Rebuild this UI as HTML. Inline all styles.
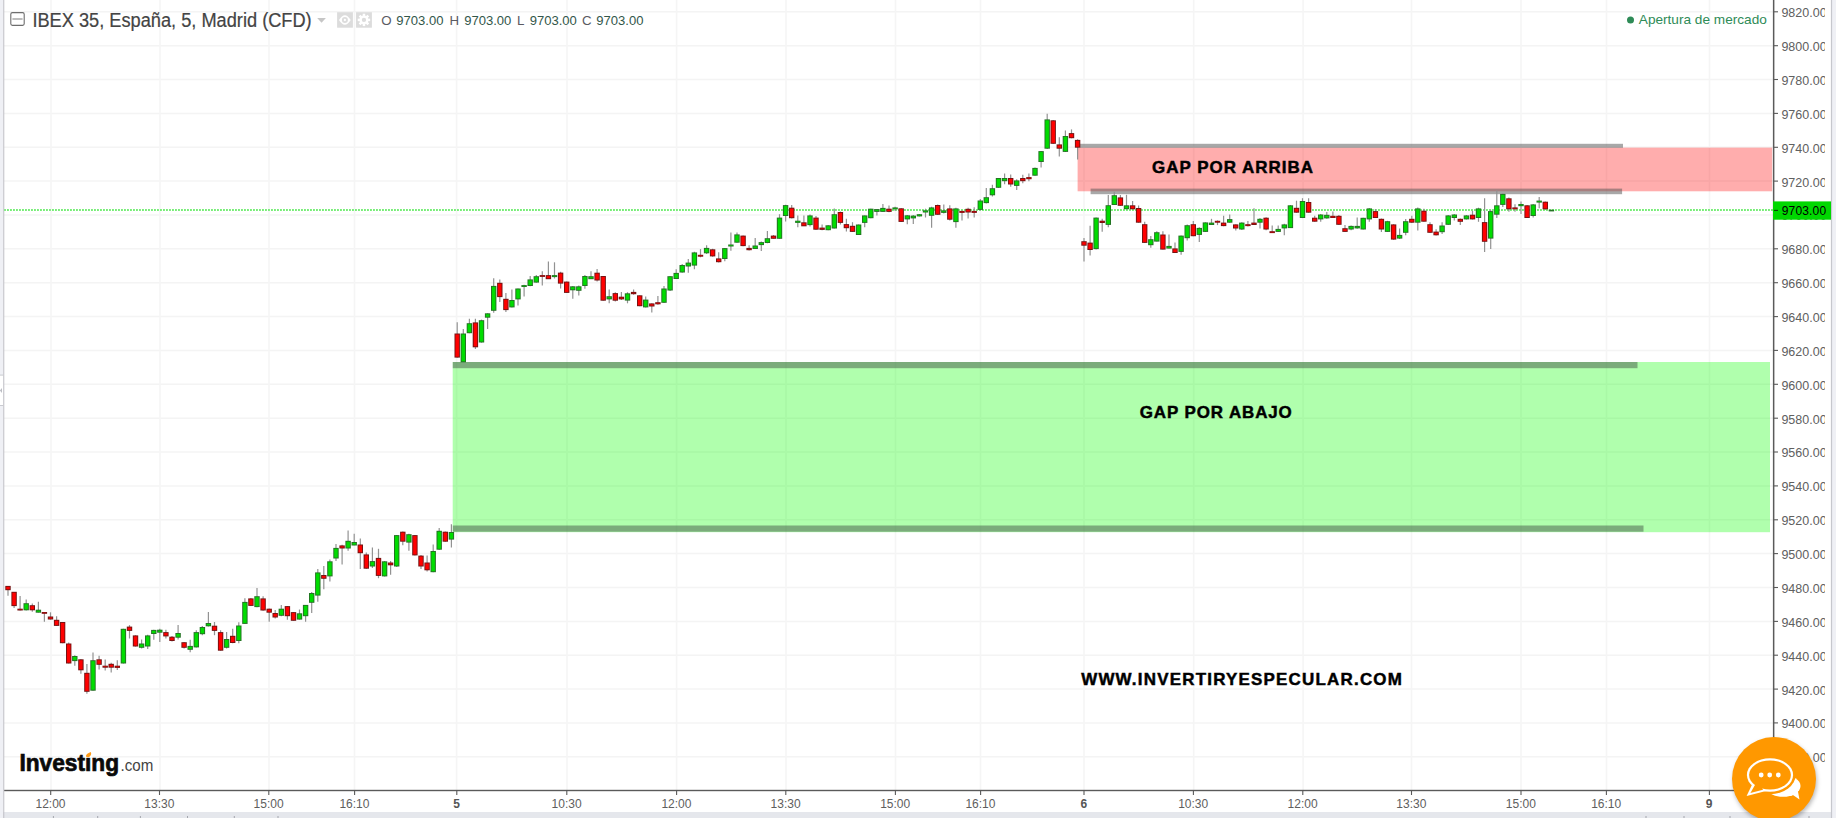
<!DOCTYPE html>
<html lang="es"><head><meta charset="utf-8"><title>IBEX 35</title>
<style>
html,body{margin:0;padding:0;background:#fff;}
body{width:1836px;height:818px;overflow:hidden;position:relative;font-family:"Liberation Sans",sans-serif;}
svg{position:absolute;left:0;top:0;display:block;}
text{font-family:"Liberation Sans",sans-serif;}
.ax{font-size:12.5px;fill:#606060;}
.tm{font-size:12px;fill:#5e5e5e;text-anchor:middle;}
.tmb{font-size:12px;fill:#555;text-anchor:middle;font-weight:bold;}
.ann{font-size:16px;font-weight:bold;fill:#000;stroke:#000;stroke-width:0.45px;}
</style></head><body>
<svg width="1836" height="818" viewBox="0 0 1836 818">
<rect x="0" y="0" width="1836" height="818" fill="#fff"/>
<g stroke="#f4f4f4" stroke-width="1.5">
<line x1="4" y1="11.8" x2="1773" y2="11.8"/>
<line x1="4" y1="45.7" x2="1773" y2="45.7"/>
<line x1="4" y1="79.5" x2="1773" y2="79.5"/>
<line x1="4" y1="113.4" x2="1773" y2="113.4"/>
<line x1="4" y1="147.3" x2="1773" y2="147.3"/>
<line x1="4" y1="181.1" x2="1773" y2="181.1"/>
<line x1="4" y1="215.0" x2="1773" y2="215.0"/>
<line x1="4" y1="248.8" x2="1773" y2="248.8"/>
<line x1="4" y1="282.7" x2="1773" y2="282.7"/>
<line x1="4" y1="316.6" x2="1773" y2="316.6"/>
<line x1="4" y1="350.4" x2="1773" y2="350.4"/>
<line x1="4" y1="384.3" x2="1773" y2="384.3"/>
<line x1="4" y1="418.2" x2="1773" y2="418.2"/>
<line x1="4" y1="452.0" x2="1773" y2="452.0"/>
<line x1="4" y1="485.9" x2="1773" y2="485.9"/>
<line x1="4" y1="519.8" x2="1773" y2="519.8"/>
<line x1="4" y1="553.6" x2="1773" y2="553.6"/>
<line x1="4" y1="587.5" x2="1773" y2="587.5"/>
<line x1="4" y1="621.4" x2="1773" y2="621.4"/>
<line x1="4" y1="655.2" x2="1773" y2="655.2"/>
<line x1="4" y1="689.1" x2="1773" y2="689.1"/>
<line x1="4" y1="722.9" x2="1773" y2="722.9"/>
<line x1="4" y1="756.8" x2="1773" y2="756.8"/>
</g>
<g stroke="#f5f5f5" stroke-width="1.6">
<line x1="51.0" y1="0" x2="51.0" y2="790"/>
<line x1="160.0" y1="0" x2="160.0" y2="790"/>
<line x1="269.0" y1="0" x2="269.0" y2="790"/>
<line x1="354.5" y1="0" x2="354.5" y2="790"/>
<line x1="456.6" y1="0" x2="456.6" y2="790"/>
<line x1="567.0" y1="0" x2="567.0" y2="790"/>
<line x1="676.6" y1="0" x2="676.6" y2="790"/>
<line x1="786.0" y1="0" x2="786.0" y2="790"/>
<line x1="895.5" y1="0" x2="895.5" y2="790"/>
<line x1="980.5" y1="0" x2="980.5" y2="790"/>
<line x1="1084.0" y1="0" x2="1084.0" y2="790"/>
<line x1="1193.7" y1="0" x2="1193.7" y2="790"/>
<line x1="1303.1" y1="0" x2="1303.1" y2="790"/>
<line x1="1411.5" y1="0" x2="1411.5" y2="790"/>
<line x1="1521.0" y1="0" x2="1521.0" y2="790"/>
<line x1="1606.5" y1="0" x2="1606.5" y2="790"/>
<line x1="1709.5" y1="0" x2="1709.5" y2="790"/>
</g>
<rect x="452.7" y="362" width="1317.3" height="170.2" fill="#0aff00" fill-opacity="0.32"/>
<rect x="1077.6" y="147.6" width="694.6" height="43.7" fill="#ff0000" fill-opacity="0.32"/>
<g fill="#46584a" fill-opacity="0.5">
<rect x="452.8" y="362" width="1184.7" height="6.2"/>
<rect x="452.8" y="525.5" width="1190.7" height="6.2"/>
</g>
<g fill="#525252" fill-opacity="0.5">
<rect x="1080" y="143.8" width="543" height="4"/>
<rect x="1090.6" y="188.6" width="531.5" height="5.6"/>
</g>
<line x1="4" y1="210.1" x2="1773" y2="210.1" stroke="#78ee78" stroke-width="2" stroke-dasharray="1.9,1.1"/>
<g>
<line x1="8.0" y1="586.2" x2="8.0" y2="595.8" stroke="#929292" stroke-width="1.2"/><rect x="5.3" y="585.9" width="5.4" height="4.3" fill="#741212"/><rect x="6.23" y="586.85" width="3.5" height="2.40" fill="#ff0000"/>
<line x1="14.1" y1="592.1" x2="14.1" y2="608.0" stroke="#929292" stroke-width="1.2"/><rect x="11.4" y="591.8" width="5.4" height="14.3" fill="#741212"/><rect x="12.31" y="592.75" width="3.5" height="12.40" fill="#ff0000"/>
<line x1="20.1" y1="596.1" x2="20.1" y2="610.4" stroke="#929292" stroke-width="1.2"/><rect x="17.4" y="608.7" width="5.4" height="1.8" fill="#741212"/><rect x="18.38" y="609.30" width="3.5" height="0.60" fill="#ff0000" fill-opacity="0.7"/>
<line x1="26.2" y1="599.4" x2="26.2" y2="610.4" stroke="#929292" stroke-width="1.2"/><rect x="23.5" y="603.2" width="5.4" height="7.1" fill="#237223"/><rect x="24.45" y="604.15" width="3.5" height="5.20" fill="#00dc00"/>
<line x1="32.3" y1="603.5" x2="32.3" y2="611.7" stroke="#929292" stroke-width="1.2"/><rect x="29.6" y="605.2" width="5.4" height="5.1" fill="#741212"/><rect x="30.53" y="606.15" width="3.5" height="3.20" fill="#ff0000"/>
<line x1="38.4" y1="601.8" x2="38.4" y2="612.6" stroke="#929292" stroke-width="1.2"/><rect x="35.7" y="609.7" width="5.4" height="3.0" fill="#237223"/><rect x="36.60" y="610.65" width="3.5" height="1.10" fill="#00dc00"/>
<line x1="44.4" y1="612.2" x2="44.4" y2="621.8" stroke="#929292" stroke-width="1.2"/><rect x="41.7" y="612.0" width="5.4" height="1.8" fill="#741212"/><rect x="42.68" y="612.60" width="3.5" height="0.60" fill="#ff0000" fill-opacity="0.7"/>
<line x1="50.5" y1="612.3" x2="50.5" y2="619.6" stroke="#929292" stroke-width="1.2"/><rect x="47.8" y="616.5" width="5.4" height="3.0" fill="#741212"/><rect x="48.75" y="617.45" width="3.5" height="1.10" fill="#ff0000"/>
<line x1="56.6" y1="616.3" x2="56.6" y2="626.0" stroke="#929292" stroke-width="1.2"/><rect x="53.9" y="619.8" width="5.4" height="6.1" fill="#741212"/><rect x="54.82" y="620.75" width="3.5" height="4.20" fill="#ff0000"/>
<line x1="62.6" y1="622.0" x2="62.6" y2="643.2" stroke="#929292" stroke-width="1.2"/><rect x="59.9" y="622.0" width="5.4" height="21.2" fill="#741212"/><rect x="60.90" y="622.95" width="3.5" height="19.30" fill="#ff0000"/>
<line x1="68.7" y1="642.5" x2="68.7" y2="663.6" stroke="#929292" stroke-width="1.2"/><rect x="66.0" y="643.5" width="5.4" height="20.0" fill="#741212"/><rect x="66.97" y="644.45" width="3.5" height="18.10" fill="#ff0000"/>
<line x1="74.8" y1="655.3" x2="74.8" y2="665.8" stroke="#929292" stroke-width="1.2"/><rect x="72.1" y="656.0" width="5.4" height="5.1" fill="#237223"/><rect x="73.05" y="656.95" width="3.5" height="3.20" fill="#00dc00"/>
<line x1="80.9" y1="659.0" x2="80.9" y2="673.7" stroke="#929292" stroke-width="1.2"/><rect x="78.2" y="659.3" width="5.4" height="11.0" fill="#741212"/><rect x="79.12" y="660.25" width="3.5" height="9.10" fill="#ff0000"/>
<line x1="86.9" y1="664.0" x2="86.9" y2="693.8" stroke="#929292" stroke-width="1.2"/><rect x="84.2" y="672.8" width="5.4" height="19.0" fill="#741212"/><rect x="85.19" y="673.75" width="3.5" height="17.10" fill="#ff0000"/>
<line x1="93.0" y1="652.6" x2="93.0" y2="690.7" stroke="#929292" stroke-width="1.2"/><rect x="90.3" y="660.2" width="5.4" height="30.5" fill="#237223"/><rect x="91.27" y="661.15" width="3.5" height="28.60" fill="#00dc00"/>
<line x1="99.1" y1="655.7" x2="99.1" y2="669.5" stroke="#929292" stroke-width="1.2"/><rect x="96.4" y="659.3" width="5.4" height="5.5" fill="#741212"/><rect x="97.34" y="660.25" width="3.5" height="3.60" fill="#ff0000"/>
<line x1="105.2" y1="659.6" x2="105.2" y2="670.6" stroke="#929292" stroke-width="1.2"/><rect x="102.5" y="665.7" width="5.4" height="2.0" fill="#741212"/><rect x="103.42" y="666.30" width="3.5" height="0.80" fill="#ff0000" fill-opacity="0.7"/>
<line x1="111.2" y1="662.7" x2="111.2" y2="672.4" stroke="#929292" stroke-width="1.2"/><rect x="108.5" y="663.8" width="5.4" height="3.9" fill="#741212"/><rect x="109.49" y="664.75" width="3.5" height="2.00" fill="#ff0000"/>
<line x1="117.3" y1="660.3" x2="117.3" y2="670.0" stroke="#929292" stroke-width="1.2"/><rect x="114.6" y="665.7" width="5.4" height="2.2" fill="#741212"/><rect x="115.56" y="666.30" width="3.5" height="1.00" fill="#ff0000" fill-opacity="0.7"/>
<line x1="123.4" y1="628.8" x2="123.4" y2="663.5" stroke="#929292" stroke-width="1.2"/><rect x="120.7" y="628.8" width="5.4" height="34.7" fill="#237223"/><rect x="121.64" y="629.75" width="3.5" height="32.80" fill="#00dc00"/>
<line x1="129.5" y1="625.1" x2="129.5" y2="638.5" stroke="#929292" stroke-width="1.2"/><rect x="126.8" y="626.6" width="5.4" height="4.3" fill="#741212"/><rect x="127.71" y="627.55" width="3.5" height="2.40" fill="#ff0000"/>
<line x1="135.5" y1="635.2" x2="135.5" y2="646.6" stroke="#929292" stroke-width="1.2"/><rect x="132.8" y="635.4" width="5.4" height="11.1" fill="#741212"/><rect x="133.79" y="636.35" width="3.5" height="9.20" fill="#ff0000"/>
<line x1="141.6" y1="639.4" x2="141.6" y2="648.6" stroke="#929292" stroke-width="1.2"/><rect x="138.9" y="643.5" width="5.4" height="4.3" fill="#237223"/><rect x="139.86" y="644.45" width="3.5" height="2.40" fill="#00dc00"/>
<line x1="147.7" y1="634.8" x2="147.7" y2="648.9" stroke="#929292" stroke-width="1.2"/><rect x="145.0" y="635.4" width="5.4" height="11.1" fill="#237223"/><rect x="145.93" y="636.35" width="3.5" height="9.20" fill="#00dc00"/>
<line x1="153.8" y1="629.7" x2="153.8" y2="639.8" stroke="#929292" stroke-width="1.2"/><rect x="151.1" y="629.9" width="5.4" height="4.1" fill="#237223"/><rect x="152.01" y="630.85" width="3.5" height="2.20" fill="#00dc00"/>
<line x1="159.8" y1="628.8" x2="159.8" y2="642.0" stroke="#929292" stroke-width="1.2"/><rect x="157.1" y="629.7" width="5.4" height="3.0" fill="#237223"/><rect x="158.08" y="630.65" width="3.5" height="1.10" fill="#00dc00"/>
<line x1="165.9" y1="629.7" x2="165.9" y2="638.5" stroke="#929292" stroke-width="1.2"/><rect x="163.2" y="632.1" width="5.4" height="4.3" fill="#741212"/><rect x="164.16" y="633.05" width="3.5" height="2.40" fill="#ff0000"/>
<line x1="172.0" y1="636.1" x2="172.0" y2="641.6" stroke="#929292" stroke-width="1.2"/><rect x="169.3" y="636.7" width="5.4" height="4.3" fill="#741212"/><rect x="170.23" y="637.65" width="3.5" height="2.40" fill="#ff0000"/>
<line x1="178.1" y1="625.1" x2="178.1" y2="639.4" stroke="#929292" stroke-width="1.2"/><rect x="175.4" y="633.0" width="5.4" height="4.7" fill="#237223"/><rect x="176.30" y="633.95" width="3.5" height="2.80" fill="#00dc00"/>
<line x1="184.1" y1="642.1" x2="184.1" y2="648.6" stroke="#929292" stroke-width="1.2"/><rect x="181.4" y="642.2" width="5.4" height="5.6" fill="#741212"/><rect x="182.38" y="643.15" width="3.5" height="3.70" fill="#ff0000"/>
<line x1="190.2" y1="639.8" x2="190.2" y2="652.2" stroke="#929292" stroke-width="1.2"/><rect x="187.5" y="645.9" width="5.4" height="3.9" fill="#237223"/><rect x="188.45" y="646.85" width="3.5" height="2.00" fill="#00dc00"/>
<line x1="196.3" y1="630.2" x2="196.3" y2="647.6" stroke="#929292" stroke-width="1.2"/><rect x="193.6" y="632.1" width="5.4" height="15.3" fill="#237223"/><rect x="194.53" y="633.05" width="3.5" height="13.40" fill="#00dc00"/>
<line x1="202.3" y1="626.0" x2="202.3" y2="635.2" stroke="#929292" stroke-width="1.2"/><rect x="199.7" y="627.0" width="5.4" height="7.2" fill="#237223"/><rect x="200.60" y="627.95" width="3.5" height="5.30" fill="#00dc00"/>
<line x1="208.4" y1="611.9" x2="208.4" y2="626.4" stroke="#929292" stroke-width="1.2"/><rect x="205.7" y="623.0" width="5.4" height="3.3" fill="#237223"/><rect x="206.67" y="623.95" width="3.5" height="1.40" fill="#00dc00"/>
<line x1="214.5" y1="622.0" x2="214.5" y2="635.2" stroke="#929292" stroke-width="1.2"/><rect x="211.8" y="625.7" width="5.4" height="5.2" fill="#741212"/><rect x="212.75" y="626.65" width="3.5" height="3.30" fill="#ff0000"/>
<line x1="220.6" y1="630.2" x2="220.6" y2="650.8" stroke="#929292" stroke-width="1.2"/><rect x="217.9" y="632.1" width="5.4" height="18.6" fill="#741212"/><rect x="218.82" y="633.05" width="3.5" height="16.70" fill="#ff0000"/>
<line x1="226.6" y1="632.1" x2="226.6" y2="648.4" stroke="#929292" stroke-width="1.2"/><rect x="223.9" y="639.0" width="5.4" height="8.8" fill="#237223"/><rect x="224.90" y="639.95" width="3.5" height="6.90" fill="#00dc00"/>
<line x1="232.7" y1="628.7" x2="232.7" y2="643.2" stroke="#929292" stroke-width="1.2"/><rect x="230.0" y="635.8" width="5.4" height="7.2" fill="#741212"/><rect x="230.97" y="636.75" width="3.5" height="5.30" fill="#ff0000"/>
<line x1="238.8" y1="622.2" x2="238.8" y2="643.2" stroke="#929292" stroke-width="1.2"/><rect x="236.1" y="625.5" width="5.4" height="15.5" fill="#237223"/><rect x="237.04" y="626.45" width="3.5" height="13.60" fill="#00dc00"/>
<line x1="244.9" y1="598.2" x2="244.9" y2="623.9" stroke="#929292" stroke-width="1.2"/><rect x="242.2" y="601.9" width="5.4" height="22.0" fill="#237223"/><rect x="243.12" y="602.85" width="3.5" height="20.10" fill="#00dc00"/>
<line x1="250.9" y1="597.9" x2="250.9" y2="605.9" stroke="#929292" stroke-width="1.2"/><rect x="248.2" y="598.4" width="5.4" height="7.5" fill="#741212"/><rect x="249.19" y="599.35" width="3.5" height="5.60" fill="#ff0000"/>
<line x1="257.0" y1="588.1" x2="257.0" y2="607.3" stroke="#929292" stroke-width="1.2"/><rect x="254.3" y="596.2" width="5.4" height="10.9" fill="#237223"/><rect x="255.27" y="597.15" width="3.5" height="9.00" fill="#00dc00"/>
<line x1="263.1" y1="596.2" x2="263.1" y2="610.7" stroke="#929292" stroke-width="1.2"/><rect x="260.4" y="598.4" width="5.4" height="12.1" fill="#741212"/><rect x="261.34" y="599.35" width="3.5" height="10.20" fill="#ff0000"/>
<line x1="269.2" y1="608.5" x2="269.2" y2="621.8" stroke="#929292" stroke-width="1.2"/><rect x="266.5" y="608.7" width="5.4" height="4.0" fill="#741212"/><rect x="267.41" y="609.65" width="3.5" height="2.10" fill="#ff0000"/>
<line x1="275.2" y1="609.9" x2="275.2" y2="618.4" stroke="#929292" stroke-width="1.2"/><rect x="272.5" y="613.0" width="5.4" height="4.5" fill="#741212"/><rect x="273.49" y="613.95" width="3.5" height="2.60" fill="#ff0000"/>
<line x1="281.3" y1="605.1" x2="281.3" y2="616.2" stroke="#929292" stroke-width="1.2"/><rect x="278.6" y="608.7" width="5.4" height="7.1" fill="#237223"/><rect x="279.56" y="609.65" width="3.5" height="5.20" fill="#00dc00"/>
<line x1="287.4" y1="606.1" x2="287.4" y2="619.8" stroke="#929292" stroke-width="1.2"/><rect x="284.7" y="606.1" width="5.4" height="10.1" fill="#741212"/><rect x="285.64" y="607.05" width="3.5" height="8.20" fill="#ff0000"/>
<line x1="293.5" y1="612.1" x2="293.5" y2="620.7" stroke="#929292" stroke-width="1.2"/><rect x="290.8" y="612.1" width="5.4" height="8.7" fill="#741212"/><rect x="291.71" y="613.05" width="3.5" height="6.80" fill="#ff0000"/>
<line x1="299.5" y1="609.5" x2="299.5" y2="619.6" stroke="#929292" stroke-width="1.2"/><rect x="296.8" y="613.3" width="5.4" height="6.3" fill="#237223"/><rect x="297.78" y="614.25" width="3.5" height="4.40" fill="#00dc00"/>
<line x1="305.6" y1="605.1" x2="305.6" y2="621.8" stroke="#929292" stroke-width="1.2"/><rect x="302.9" y="604.9" width="5.4" height="11.3" fill="#237223"/><rect x="303.86" y="605.85" width="3.5" height="9.40" fill="#00dc00"/>
<line x1="311.7" y1="591.9" x2="311.7" y2="612.9" stroke="#929292" stroke-width="1.2"/><rect x="309.0" y="593.0" width="5.4" height="9.8" fill="#237223"/><rect x="309.93" y="593.95" width="3.5" height="7.90" fill="#00dc00"/>
<line x1="317.8" y1="569.1" x2="317.8" y2="601.8" stroke="#929292" stroke-width="1.2"/><rect x="315.1" y="572.4" width="5.4" height="23.2" fill="#237223"/><rect x="316.01" y="573.35" width="3.5" height="21.30" fill="#00dc00"/>
<line x1="323.8" y1="565.9" x2="323.8" y2="589.3" stroke="#929292" stroke-width="1.2"/><rect x="321.1" y="575.0" width="5.4" height="3.8" fill="#741212"/><rect x="322.08" y="575.95" width="3.5" height="1.90" fill="#ff0000"/>
<line x1="329.9" y1="559.4" x2="329.9" y2="581.6" stroke="#929292" stroke-width="1.2"/><rect x="327.2" y="561.3" width="5.4" height="15.1" fill="#237223"/><rect x="328.15" y="562.25" width="3.5" height="13.20" fill="#00dc00"/>
<line x1="336.0" y1="544.0" x2="336.0" y2="561.1" stroke="#929292" stroke-width="1.2"/><rect x="333.3" y="547.9" width="5.4" height="10.6" fill="#237223"/><rect x="334.23" y="548.85" width="3.5" height="8.70" fill="#00dc00"/>
<line x1="342.1" y1="544.8" x2="342.1" y2="564.5" stroke="#929292" stroke-width="1.2"/><rect x="339.4" y="545.4" width="5.4" height="3.1" fill="#741212"/><rect x="340.30" y="546.35" width="3.5" height="1.20" fill="#ff0000"/>
<line x1="348.1" y1="530.6" x2="348.1" y2="550.8" stroke="#929292" stroke-width="1.2"/><rect x="345.4" y="540.8" width="5.4" height="7.7" fill="#237223"/><rect x="346.38" y="541.75" width="3.5" height="5.80" fill="#00dc00"/>
<line x1="354.2" y1="533.7" x2="354.2" y2="545.3" stroke="#929292" stroke-width="1.2"/><rect x="351.5" y="542.0" width="5.4" height="3.5" fill="#237223"/><rect x="352.45" y="542.95" width="3.5" height="1.60" fill="#00dc00"/>
<line x1="360.3" y1="538.5" x2="360.3" y2="569.1" stroke="#929292" stroke-width="1.2"/><rect x="357.6" y="544.5" width="5.4" height="8.7" fill="#741212"/><rect x="358.52" y="545.45" width="3.5" height="6.80" fill="#ff0000"/>
<line x1="366.3" y1="552.5" x2="366.3" y2="569.1" stroke="#929292" stroke-width="1.2"/><rect x="363.6" y="554.4" width="5.4" height="14.3" fill="#741212"/><rect x="364.60" y="555.35" width="3.5" height="12.40" fill="#ff0000"/>
<line x1="372.4" y1="547.4" x2="372.4" y2="567.9" stroke="#929292" stroke-width="1.2"/><rect x="369.7" y="561.1" width="5.4" height="5.4" fill="#237223"/><rect x="370.67" y="562.05" width="3.5" height="3.50" fill="#00dc00"/>
<line x1="378.5" y1="548.8" x2="378.5" y2="578.2" stroke="#929292" stroke-width="1.2"/><rect x="375.8" y="557.9" width="5.4" height="18.0" fill="#741212"/><rect x="376.75" y="558.85" width="3.5" height="16.10" fill="#ff0000"/>
<line x1="384.6" y1="561.1" x2="384.6" y2="576.5" stroke="#929292" stroke-width="1.2"/><rect x="381.9" y="561.3" width="5.4" height="15.1" fill="#237223"/><rect x="382.82" y="562.25" width="3.5" height="13.20" fill="#00dc00"/>
<line x1="390.6" y1="561.1" x2="390.6" y2="574.8" stroke="#929292" stroke-width="1.2"/><rect x="387.9" y="562.5" width="5.4" height="2.8" fill="#741212"/><rect x="388.89" y="563.45" width="3.5" height="0.90" fill="#ff0000"/>
<line x1="396.7" y1="535.1" x2="396.7" y2="567.1" stroke="#929292" stroke-width="1.2"/><rect x="394.0" y="535.1" width="5.4" height="31.4" fill="#237223"/><rect x="394.97" y="536.05" width="3.5" height="29.50" fill="#00dc00"/>
<line x1="402.8" y1="531.6" x2="402.8" y2="545.3" stroke="#929292" stroke-width="1.2"/><rect x="400.1" y="531.7" width="5.4" height="10.0" fill="#741212"/><rect x="401.04" y="532.65" width="3.5" height="8.10" fill="#ff0000"/>
<line x1="408.9" y1="533.7" x2="408.9" y2="550.8" stroke="#929292" stroke-width="1.2"/><rect x="406.2" y="534.2" width="5.4" height="8.4" fill="#237223"/><rect x="407.12" y="535.15" width="3.5" height="6.50" fill="#00dc00"/>
<line x1="414.9" y1="535.1" x2="414.9" y2="555.4" stroke="#929292" stroke-width="1.2"/><rect x="412.2" y="535.1" width="5.4" height="20.3" fill="#741212"/><rect x="413.19" y="536.05" width="3.5" height="18.40" fill="#ff0000"/>
<line x1="421.0" y1="555.1" x2="421.0" y2="569.1" stroke="#929292" stroke-width="1.2"/><rect x="418.3" y="555.6" width="5.4" height="10.9" fill="#741212"/><rect x="419.26" y="556.55" width="3.5" height="9.00" fill="#ff0000"/>
<line x1="427.1" y1="555.4" x2="427.1" y2="571.4" stroke="#929292" stroke-width="1.2"/><rect x="424.4" y="562.5" width="5.4" height="7.8" fill="#741212"/><rect x="425.34" y="563.45" width="3.5" height="5.90" fill="#ff0000"/>
<line x1="433.2" y1="544.5" x2="433.2" y2="572.2" stroke="#929292" stroke-width="1.2"/><rect x="430.5" y="551.0" width="5.4" height="21.2" fill="#237223"/><rect x="431.41" y="551.95" width="3.5" height="19.30" fill="#00dc00"/>
<line x1="439.2" y1="528.0" x2="439.2" y2="550.0" stroke="#929292" stroke-width="1.2"/><rect x="436.5" y="530.8" width="5.4" height="18.9" fill="#237223"/><rect x="437.49" y="531.75" width="3.5" height="17.00" fill="#00dc00"/>
<line x1="445.3" y1="531.6" x2="445.3" y2="541.7" stroke="#929292" stroke-width="1.2"/><rect x="442.6" y="531.7" width="5.4" height="10.0" fill="#741212"/><rect x="443.56" y="532.65" width="3.5" height="8.10" fill="#ff0000"/>
<line x1="451.4" y1="524.3" x2="451.4" y2="547.4" stroke="#929292" stroke-width="1.2"/><rect x="448.7" y="532.0" width="5.4" height="7.6" fill="#237223"/><rect x="449.63" y="532.95" width="3.5" height="5.70" fill="#00dc00"/>
<line x1="457.2" y1="322.2" x2="457.2" y2="357.8" stroke="#929292" stroke-width="1.2"/><rect x="454.5" y="333.5" width="5.4" height="24.1" fill="#741212"/><rect x="455.45" y="334.45" width="3.5" height="22.20" fill="#ff0000"/>
<line x1="463.3" y1="329.0" x2="463.3" y2="362.4" stroke="#929292" stroke-width="1.2"/><rect x="460.6" y="333.5" width="5.4" height="28.8" fill="#237223"/><rect x="461.53" y="334.45" width="3.5" height="26.90" fill="#00dc00"/>
<line x1="469.4" y1="318.7" x2="469.4" y2="333.3" stroke="#929292" stroke-width="1.2"/><rect x="466.7" y="323.2" width="5.4" height="10.0" fill="#237223"/><rect x="467.61" y="324.15" width="3.5" height="8.10" fill="#00dc00"/>
<line x1="475.4" y1="318.7" x2="475.4" y2="349.0" stroke="#929292" stroke-width="1.2"/><rect x="472.7" y="322.4" width="5.4" height="24.9" fill="#741212"/><rect x="473.70" y="323.35" width="3.5" height="23.00" fill="#ff0000"/>
<line x1="481.5" y1="319.6" x2="481.5" y2="342.7" stroke="#929292" stroke-width="1.2"/><rect x="478.8" y="320.2" width="5.4" height="22.3" fill="#237223"/><rect x="479.78" y="321.15" width="3.5" height="20.40" fill="#00dc00"/>
<line x1="487.6" y1="313.3" x2="487.6" y2="329.0" stroke="#929292" stroke-width="1.2"/><rect x="484.9" y="313.3" width="5.4" height="4.4" fill="#237223"/><rect x="485.86" y="314.25" width="3.5" height="2.50" fill="#00dc00"/>
<line x1="493.7" y1="278.2" x2="493.7" y2="312.7" stroke="#929292" stroke-width="1.2"/><rect x="491.0" y="285.9" width="5.4" height="24.9" fill="#237223"/><rect x="491.94" y="286.85" width="3.5" height="23.00" fill="#00dc00"/>
<line x1="499.8" y1="279.4" x2="499.8" y2="302.0" stroke="#929292" stroke-width="1.2"/><rect x="497.1" y="282.8" width="5.4" height="14.3" fill="#741212"/><rect x="498.02" y="283.75" width="3.5" height="12.40" fill="#ff0000"/>
<line x1="505.9" y1="293.1" x2="505.9" y2="311.9" stroke="#929292" stroke-width="1.2"/><rect x="503.2" y="298.8" width="5.4" height="11.3" fill="#741212"/><rect x="504.11" y="299.75" width="3.5" height="9.40" fill="#ff0000"/>
<line x1="511.9" y1="289.6" x2="511.9" y2="307.6" stroke="#929292" stroke-width="1.2"/><rect x="509.2" y="300.0" width="5.4" height="7.4" fill="#237223"/><rect x="510.19" y="300.95" width="3.5" height="5.50" fill="#00dc00"/>
<line x1="518.0" y1="288.4" x2="518.0" y2="305.4" stroke="#929292" stroke-width="1.2"/><rect x="515.3" y="288.5" width="5.4" height="10.9" fill="#237223"/><rect x="516.27" y="289.45" width="3.5" height="9.00" fill="#00dc00"/>
<line x1="524.1" y1="284.8" x2="524.1" y2="296.5" stroke="#929292" stroke-width="1.2"/><rect x="521.4" y="285.1" width="5.4" height="1.9" fill="#237223"/><rect x="522.35" y="285.70" width="3.5" height="0.70" fill="#00dc00" fill-opacity="0.7"/>
<line x1="530.2" y1="275.9" x2="530.2" y2="286.2" stroke="#929292" stroke-width="1.2"/><rect x="527.5" y="279.4" width="5.4" height="6.6" fill="#237223"/><rect x="528.43" y="280.35" width="3.5" height="4.70" fill="#00dc00"/>
<line x1="536.3" y1="275.1" x2="536.3" y2="282.8" stroke="#929292" stroke-width="1.2"/><rect x="533.6" y="276.2" width="5.4" height="6.4" fill="#237223"/><rect x="534.52" y="277.15" width="3.5" height="4.50" fill="#00dc00"/>
<line x1="542.3" y1="271.3" x2="542.3" y2="285.4" stroke="#929292" stroke-width="1.2"/><rect x="539.6" y="275.1" width="5.4" height="1.8" fill="#741212"/><rect x="540.60" y="275.70" width="3.5" height="0.60" fill="#ff0000" fill-opacity="0.7"/>
<line x1="548.4" y1="261.4" x2="548.4" y2="279.0" stroke="#929292" stroke-width="1.2"/><rect x="545.7" y="275.1" width="5.4" height="4.1" fill="#741212"/><rect x="546.68" y="276.05" width="3.5" height="2.20" fill="#ff0000"/>
<line x1="554.5" y1="262.3" x2="554.5" y2="278.5" stroke="#929292" stroke-width="1.2"/><rect x="551.8" y="275.1" width="5.4" height="2.0" fill="#237223"/><rect x="552.76" y="275.70" width="3.5" height="0.80" fill="#00dc00" fill-opacity="0.7"/>
<line x1="560.6" y1="271.7" x2="560.6" y2="288.4" stroke="#929292" stroke-width="1.2"/><rect x="557.9" y="272.6" width="5.4" height="11.0" fill="#741212"/><rect x="558.84" y="273.55" width="3.5" height="9.10" fill="#ff0000"/>
<line x1="566.7" y1="281.6" x2="566.7" y2="292.7" stroke="#929292" stroke-width="1.2"/><rect x="564.0" y="281.6" width="5.4" height="11.3" fill="#741212"/><rect x="564.93" y="282.55" width="3.5" height="9.40" fill="#ff0000"/>
<line x1="572.8" y1="285.9" x2="572.8" y2="298.7" stroke="#929292" stroke-width="1.2"/><rect x="570.1" y="286.3" width="5.4" height="4.0" fill="#237223"/><rect x="571.01" y="287.25" width="3.5" height="2.10" fill="#00dc00"/>
<line x1="578.8" y1="285.4" x2="578.8" y2="295.6" stroke="#929292" stroke-width="1.2"/><rect x="576.1" y="286.3" width="5.4" height="4.5" fill="#237223"/><rect x="577.09" y="287.25" width="3.5" height="2.60" fill="#00dc00"/>
<line x1="584.9" y1="275.1" x2="584.9" y2="288.8" stroke="#929292" stroke-width="1.2"/><rect x="582.2" y="276.0" width="5.4" height="10.0" fill="#237223"/><rect x="583.17" y="276.95" width="3.5" height="8.10" fill="#00dc00"/>
<line x1="591.0" y1="271.3" x2="591.0" y2="279.0" stroke="#929292" stroke-width="1.2"/><rect x="588.3" y="276.2" width="5.4" height="3.0" fill="#237223"/><rect x="589.25" y="277.15" width="3.5" height="1.10" fill="#00dc00"/>
<line x1="597.1" y1="269.1" x2="597.1" y2="281.4" stroke="#929292" stroke-width="1.2"/><rect x="594.4" y="272.7" width="5.4" height="7.8" fill="#741212"/><rect x="595.34" y="273.65" width="3.5" height="5.90" fill="#ff0000"/>
<line x1="603.2" y1="276.0" x2="603.2" y2="300.8" stroke="#929292" stroke-width="1.2"/><rect x="600.5" y="276.0" width="5.4" height="24.7" fill="#741212"/><rect x="601.42" y="276.95" width="3.5" height="22.80" fill="#ff0000"/>
<line x1="609.2" y1="289.6" x2="609.2" y2="303.3" stroke="#929292" stroke-width="1.2"/><rect x="606.5" y="296.2" width="5.4" height="3.2" fill="#237223"/><rect x="607.50" y="297.15" width="3.5" height="1.30" fill="#00dc00"/>
<line x1="615.3" y1="292.2" x2="615.3" y2="301.6" stroke="#929292" stroke-width="1.2"/><rect x="612.6" y="293.1" width="5.4" height="7.6" fill="#741212"/><rect x="613.58" y="294.05" width="3.5" height="5.70" fill="#ff0000"/>
<line x1="621.4" y1="291.9" x2="621.4" y2="299.9" stroke="#929292" stroke-width="1.2"/><rect x="618.7" y="296.7" width="5.4" height="2.7" fill="#741212"/><rect x="619.66" y="297.65" width="3.5" height="0.80" fill="#ff0000"/>
<line x1="627.5" y1="292.2" x2="627.5" y2="303.3" stroke="#929292" stroke-width="1.2"/><rect x="624.8" y="293.3" width="5.4" height="7.3" fill="#237223"/><rect x="625.75" y="294.25" width="3.5" height="5.40" fill="#00dc00"/>
<line x1="633.6" y1="289.6" x2="633.6" y2="294.8" stroke="#929292" stroke-width="1.2"/><rect x="630.9" y="291.9" width="5.4" height="2.3" fill="#741212"/><rect x="631.83" y="292.85" width="3.5" height="0.40" fill="#ff0000"/>
<line x1="639.7" y1="295.3" x2="639.7" y2="306.2" stroke="#929292" stroke-width="1.2"/><rect x="637.0" y="295.3" width="5.4" height="10.9" fill="#741212"/><rect x="637.91" y="296.25" width="3.5" height="9.00" fill="#ff0000"/>
<line x1="645.7" y1="296.5" x2="645.7" y2="307.6" stroke="#929292" stroke-width="1.2"/><rect x="643.0" y="299.6" width="5.4" height="7.8" fill="#237223"/><rect x="643.99" y="300.55" width="3.5" height="5.90" fill="#00dc00"/>
<line x1="651.8" y1="303.3" x2="651.8" y2="312.4" stroke="#929292" stroke-width="1.2"/><rect x="649.1" y="303.4" width="5.4" height="3.1" fill="#741212"/><rect x="650.07" y="304.35" width="3.5" height="1.20" fill="#ff0000"/>
<line x1="657.9" y1="296.1" x2="657.9" y2="304.7" stroke="#929292" stroke-width="1.2"/><rect x="655.2" y="302.2" width="5.4" height="2.1" fill="#741212"/><rect x="656.16" y="302.80" width="3.5" height="0.90" fill="#ff0000" fill-opacity="0.7"/>
<line x1="664.0" y1="285.9" x2="664.0" y2="303.0" stroke="#929292" stroke-width="1.2"/><rect x="661.3" y="288.5" width="5.4" height="14.3" fill="#237223"/><rect x="662.24" y="289.45" width="3.5" height="12.40" fill="#00dc00"/>
<line x1="670.1" y1="275.9" x2="670.1" y2="291.0" stroke="#929292" stroke-width="1.2"/><rect x="667.4" y="276.2" width="5.4" height="14.3" fill="#237223"/><rect x="668.32" y="277.15" width="3.5" height="12.40" fill="#00dc00"/>
<line x1="676.2" y1="269.3" x2="676.2" y2="279.0" stroke="#929292" stroke-width="1.2"/><rect x="673.5" y="272.9" width="5.4" height="6.1" fill="#237223"/><rect x="674.40" y="273.85" width="3.5" height="4.20" fill="#00dc00"/>
<line x1="682.2" y1="264.1" x2="682.2" y2="272.7" stroke="#929292" stroke-width="1.2"/><rect x="679.5" y="265.0" width="5.4" height="7.5" fill="#237223"/><rect x="680.48" y="265.95" width="3.5" height="5.60" fill="#00dc00"/>
<line x1="688.3" y1="259.0" x2="688.3" y2="272.7" stroke="#929292" stroke-width="1.2"/><rect x="685.6" y="262.6" width="5.4" height="3.9" fill="#237223"/><rect x="686.57" y="263.55" width="3.5" height="2.00" fill="#00dc00"/>
<line x1="694.4" y1="251.8" x2="694.4" y2="269.3" stroke="#929292" stroke-width="1.2"/><rect x="691.7" y="252.4" width="5.4" height="13.2" fill="#237223"/><rect x="692.65" y="253.35" width="3.5" height="11.30" fill="#00dc00"/>
<line x1="700.5" y1="249.1" x2="700.5" y2="257.3" stroke="#929292" stroke-width="1.2"/><rect x="697.8" y="254.8" width="5.4" height="1.9" fill="#741212"/><rect x="698.73" y="255.40" width="3.5" height="0.70" fill="#ff0000" fill-opacity="0.7"/>
<line x1="706.6" y1="245.3" x2="706.6" y2="253.9" stroke="#929292" stroke-width="1.2"/><rect x="703.9" y="247.9" width="5.4" height="5.4" fill="#237223"/><rect x="704.81" y="248.85" width="3.5" height="3.50" fill="#00dc00"/>
<line x1="712.6" y1="248.7" x2="712.6" y2="256.8" stroke="#929292" stroke-width="1.2"/><rect x="709.9" y="249.3" width="5.4" height="7.1" fill="#741212"/><rect x="710.89" y="250.25" width="3.5" height="5.20" fill="#ff0000"/>
<line x1="718.7" y1="252.2" x2="718.7" y2="262.4" stroke="#929292" stroke-width="1.2"/><rect x="716.0" y="258.4" width="5.4" height="3.8" fill="#741212"/><rect x="716.98" y="259.35" width="3.5" height="1.90" fill="#ff0000"/>
<line x1="724.8" y1="247.9" x2="724.8" y2="261.2" stroke="#929292" stroke-width="1.2"/><rect x="722.1" y="248.1" width="5.4" height="10.9" fill="#237223"/><rect x="723.06" y="249.05" width="3.5" height="9.00" fill="#00dc00"/>
<line x1="730.9" y1="232.5" x2="730.9" y2="250.8" stroke="#929292" stroke-width="1.2"/><rect x="728.2" y="244.5" width="5.4" height="2.0" fill="#237223"/><rect x="729.14" y="245.10" width="3.5" height="0.80" fill="#00dc00" fill-opacity="0.7"/>
<line x1="737.0" y1="232.5" x2="737.0" y2="242.7" stroke="#929292" stroke-width="1.2"/><rect x="734.3" y="234.4" width="5.4" height="8.3" fill="#237223"/><rect x="735.22" y="235.35" width="3.5" height="6.40" fill="#00dc00"/>
<line x1="743.1" y1="235.6" x2="743.1" y2="246.2" stroke="#929292" stroke-width="1.2"/><rect x="740.4" y="235.6" width="5.4" height="10.5" fill="#741212"/><rect x="741.30" y="236.55" width="3.5" height="8.60" fill="#ff0000"/>
<line x1="749.1" y1="245.3" x2="749.1" y2="250.5" stroke="#929292" stroke-width="1.2"/><rect x="746.4" y="247.9" width="5.4" height="2.3" fill="#741212"/><rect x="747.39" y="248.85" width="3.5" height="0.40" fill="#ff0000"/>
<line x1="755.2" y1="238.0" x2="755.2" y2="249.1" stroke="#929292" stroke-width="1.2"/><rect x="752.5" y="245.5" width="5.4" height="3.5" fill="#237223"/><rect x="753.47" y="246.45" width="3.5" height="1.60" fill="#00dc00"/>
<line x1="761.3" y1="241.5" x2="761.3" y2="251.0" stroke="#929292" stroke-width="1.2"/><rect x="758.6" y="242.1" width="5.4" height="3.0" fill="#237223"/><rect x="759.55" y="243.05" width="3.5" height="1.10" fill="#00dc00"/>
<line x1="767.4" y1="231.1" x2="767.4" y2="243.3" stroke="#929292" stroke-width="1.2"/><rect x="764.7" y="238.2" width="5.4" height="4.8" fill="#237223"/><rect x="765.63" y="239.15" width="3.5" height="2.90" fill="#00dc00"/>
<line x1="773.5" y1="235.0" x2="773.5" y2="238.6" stroke="#929292" stroke-width="1.2"/><rect x="770.8" y="235.6" width="5.4" height="3.2" fill="#741212"/><rect x="771.71" y="236.55" width="3.5" height="1.30" fill="#ff0000"/>
<line x1="779.5" y1="214.2" x2="779.5" y2="238.8" stroke="#929292" stroke-width="1.2"/><rect x="776.8" y="217.6" width="5.4" height="21.2" fill="#237223"/><rect x="777.80" y="218.55" width="3.5" height="19.30" fill="#00dc00"/>
<line x1="785.6" y1="204.7" x2="785.6" y2="221.4" stroke="#929292" stroke-width="1.2"/><rect x="782.9" y="205.1" width="5.4" height="10.9" fill="#237223"/><rect x="783.88" y="206.05" width="3.5" height="9.00" fill="#00dc00"/>
<line x1="791.7" y1="205.1" x2="791.7" y2="218.4" stroke="#929292" stroke-width="1.2"/><rect x="789.0" y="207.7" width="5.4" height="10.5" fill="#741212"/><rect x="789.96" y="208.65" width="3.5" height="8.60" fill="#ff0000"/>
<line x1="797.8" y1="215.4" x2="797.8" y2="227.3" stroke="#929292" stroke-width="1.2"/><rect x="795.1" y="220.7" width="5.4" height="2.2" fill="#237223"/><rect x="796.04" y="221.30" width="3.5" height="1.00" fill="#00dc00" fill-opacity="0.7"/>
<line x1="803.9" y1="215.4" x2="803.9" y2="226.1" stroke="#929292" stroke-width="1.2"/><rect x="801.2" y="222.3" width="5.4" height="4.0" fill="#741212"/><rect x="802.12" y="223.25" width="3.5" height="2.10" fill="#ff0000"/>
<line x1="810.0" y1="214.5" x2="810.0" y2="226.5" stroke="#929292" stroke-width="1.2"/><rect x="807.3" y="215.4" width="5.4" height="9.7" fill="#237223"/><rect x="808.21" y="216.35" width="3.5" height="7.80" fill="#00dc00"/>
<line x1="816.0" y1="215.9" x2="816.0" y2="229.9" stroke="#929292" stroke-width="1.2"/><rect x="813.3" y="217.6" width="5.4" height="12.1" fill="#741212"/><rect x="814.29" y="218.55" width="3.5" height="10.20" fill="#ff0000"/>
<line x1="822.1" y1="224.4" x2="822.1" y2="230.3" stroke="#929292" stroke-width="1.2"/><rect x="819.4" y="227.6" width="5.4" height="2.3" fill="#741212"/><rect x="820.37" y="228.55" width="3.5" height="0.40" fill="#ff0000"/>
<line x1="828.2" y1="225.1" x2="828.2" y2="230.3" stroke="#929292" stroke-width="1.2"/><rect x="825.5" y="225.3" width="5.4" height="4.9" fill="#237223"/><rect x="826.45" y="226.25" width="3.5" height="3.00" fill="#00dc00"/>
<line x1="834.3" y1="208.5" x2="834.3" y2="228.5" stroke="#929292" stroke-width="1.2"/><rect x="831.6" y="214.2" width="5.4" height="14.3" fill="#237223"/><rect x="832.53" y="215.15" width="3.5" height="12.40" fill="#00dc00"/>
<line x1="840.4" y1="211.6" x2="840.4" y2="224.4" stroke="#929292" stroke-width="1.2"/><rect x="837.7" y="212.0" width="5.4" height="10.9" fill="#741212"/><rect x="838.62" y="212.95" width="3.5" height="9.00" fill="#ff0000"/>
<line x1="846.4" y1="218.8" x2="846.4" y2="231.6" stroke="#929292" stroke-width="1.2"/><rect x="843.7" y="224.1" width="5.4" height="4.1" fill="#741212"/><rect x="844.70" y="225.05" width="3.5" height="2.20" fill="#ff0000"/>
<line x1="852.5" y1="222.2" x2="852.5" y2="232.0" stroke="#929292" stroke-width="1.2"/><rect x="849.8" y="225.8" width="5.4" height="6.1" fill="#741212"/><rect x="850.78" y="226.75" width="3.5" height="4.20" fill="#ff0000"/>
<line x1="858.6" y1="224.4" x2="858.6" y2="235.0" stroke="#929292" stroke-width="1.2"/><rect x="855.9" y="224.5" width="5.4" height="10.5" fill="#237223"/><rect x="856.86" y="225.45" width="3.5" height="8.60" fill="#00dc00"/>
<line x1="864.7" y1="215.4" x2="864.7" y2="227.3" stroke="#929292" stroke-width="1.2"/><rect x="862.0" y="215.4" width="5.4" height="7.5" fill="#237223"/><rect x="862.94" y="216.35" width="3.5" height="5.60" fill="#00dc00"/>
<line x1="870.8" y1="208.7" x2="870.8" y2="218.3" stroke="#929292" stroke-width="1.2"/><rect x="868.1" y="208.7" width="5.4" height="9.5" fill="#237223"/><rect x="869.03" y="209.65" width="3.5" height="7.60" fill="#00dc00"/>
<line x1="876.9" y1="209.0" x2="876.9" y2="215.4" stroke="#929292" stroke-width="1.2"/><rect x="874.2" y="209.1" width="5.4" height="2.8" fill="#237223"/><rect x="875.11" y="210.05" width="3.5" height="0.90" fill="#00dc00"/>
<line x1="882.9" y1="203.9" x2="882.9" y2="211.9" stroke="#929292" stroke-width="1.2"/><rect x="880.2" y="207.9" width="5.4" height="4.0" fill="#237223"/><rect x="881.19" y="208.85" width="3.5" height="2.10" fill="#00dc00"/>
<line x1="889.0" y1="205.4" x2="889.0" y2="212.3" stroke="#929292" stroke-width="1.2"/><rect x="886.3" y="208.7" width="5.4" height="3.2" fill="#741212"/><rect x="887.27" y="209.65" width="3.5" height="1.30" fill="#ff0000"/>
<line x1="895.1" y1="206.8" x2="895.1" y2="211.1" stroke="#929292" stroke-width="1.2"/><rect x="892.4" y="207.4" width="5.4" height="1.9" fill="#237223"/><rect x="893.35" y="208.00" width="3.5" height="0.70" fill="#00dc00" fill-opacity="0.7"/>
<line x1="901.2" y1="208.1" x2="901.2" y2="222.0" stroke="#929292" stroke-width="1.2"/><rect x="898.5" y="208.3" width="5.4" height="13.6" fill="#741212"/><rect x="899.44" y="209.25" width="3.5" height="11.70" fill="#ff0000"/>
<line x1="907.3" y1="215.0" x2="907.3" y2="224.2" stroke="#929292" stroke-width="1.2"/><rect x="904.6" y="215.3" width="5.4" height="4.1" fill="#237223"/><rect x="905.52" y="216.25" width="3.5" height="2.20" fill="#00dc00"/>
<line x1="913.3" y1="215.1" x2="913.3" y2="223.9" stroke="#929292" stroke-width="1.2"/><rect x="910.6" y="215.6" width="5.4" height="2.8" fill="#237223"/><rect x="911.60" y="216.55" width="3.5" height="0.90" fill="#00dc00"/>
<line x1="919.4" y1="214.1" x2="919.4" y2="216.5" stroke="#929292" stroke-width="1.2"/><rect x="916.7" y="214.2" width="5.4" height="2.2" fill="#237223"/><rect x="917.68" y="214.80" width="3.5" height="1.00" fill="#00dc00" fill-opacity="0.7"/>
<line x1="925.5" y1="208.7" x2="925.5" y2="217.5" stroke="#929292" stroke-width="1.2"/><rect x="922.8" y="210.3" width="5.4" height="2.2" fill="#237223"/><rect x="923.76" y="210.90" width="3.5" height="1.00" fill="#00dc00" fill-opacity="0.7"/>
<line x1="931.6" y1="206.7" x2="931.6" y2="227.8" stroke="#929292" stroke-width="1.2"/><rect x="928.9" y="207.4" width="5.4" height="8.4" fill="#237223"/><rect x="929.85" y="208.35" width="3.5" height="6.50" fill="#00dc00"/>
<line x1="937.7" y1="204.4" x2="937.7" y2="214.9" stroke="#929292" stroke-width="1.2"/><rect x="935.0" y="205.0" width="5.4" height="9.8" fill="#741212"/><rect x="935.93" y="205.95" width="3.5" height="7.90" fill="#ff0000"/>
<line x1="943.8" y1="204.4" x2="943.8" y2="213.6" stroke="#929292" stroke-width="1.2"/><rect x="941.1" y="210.3" width="5.4" height="2.6" fill="#237223"/><rect x="942.01" y="211.25" width="3.5" height="0.70" fill="#00dc00"/>
<line x1="949.8" y1="205.3" x2="949.8" y2="220.4" stroke="#929292" stroke-width="1.2"/><rect x="947.1" y="208.4" width="5.4" height="11.3" fill="#741212"/><rect x="948.09" y="209.35" width="3.5" height="9.40" fill="#ff0000"/>
<line x1="955.9" y1="207.7" x2="955.9" y2="227.8" stroke="#929292" stroke-width="1.2"/><rect x="953.2" y="208.4" width="5.4" height="13.7" fill="#237223"/><rect x="954.17" y="209.35" width="3.5" height="11.80" fill="#00dc00"/>
<line x1="962.0" y1="210.6" x2="962.0" y2="220.4" stroke="#929292" stroke-width="1.2"/><rect x="959.3" y="210.9" width="5.4" height="2.0" fill="#741212"/><rect x="960.26" y="211.50" width="3.5" height="0.80" fill="#ff0000" fill-opacity="0.7"/>
<line x1="968.1" y1="207.7" x2="968.1" y2="218.4" stroke="#929292" stroke-width="1.2"/><rect x="965.4" y="208.8" width="5.4" height="3.7" fill="#741212"/><rect x="966.34" y="209.75" width="3.5" height="1.80" fill="#ff0000"/>
<line x1="974.2" y1="207.3" x2="974.2" y2="217.5" stroke="#929292" stroke-width="1.2"/><rect x="971.5" y="210.9" width="5.4" height="2.0" fill="#741212"/><rect x="972.42" y="211.50" width="3.5" height="0.80" fill="#ff0000" fill-opacity="0.7"/>
<line x1="980.3" y1="198.9" x2="980.3" y2="210.6" stroke="#929292" stroke-width="1.2"/><rect x="977.6" y="200.5" width="5.4" height="9.4" fill="#237223"/><rect x="978.50" y="201.45" width="3.5" height="7.50" fill="#00dc00"/>
<line x1="986.3" y1="188.1" x2="986.3" y2="203.4" stroke="#929292" stroke-width="1.2"/><rect x="983.6" y="197.2" width="5.4" height="5.9" fill="#237223"/><rect x="984.58" y="198.15" width="3.5" height="4.00" fill="#00dc00"/>
<line x1="992.4" y1="184.8" x2="992.4" y2="196.5" stroke="#929292" stroke-width="1.2"/><rect x="989.7" y="188.2" width="5.4" height="7.1" fill="#237223"/><rect x="990.67" y="189.15" width="3.5" height="5.20" fill="#00dc00"/>
<line x1="998.5" y1="178.0" x2="998.5" y2="187.9" stroke="#929292" stroke-width="1.2"/><rect x="995.8" y="178.0" width="5.4" height="9.8" fill="#237223"/><rect x="996.75" y="178.95" width="3.5" height="7.90" fill="#00dc00"/>
<line x1="1004.6" y1="173.5" x2="1004.6" y2="184.2" stroke="#929292" stroke-width="1.2"/><rect x="1001.9" y="178.0" width="5.4" height="3.2" fill="#237223"/><rect x="1002.83" y="178.95" width="3.5" height="1.30" fill="#00dc00"/>
<line x1="1010.7" y1="174.4" x2="1010.7" y2="186.8" stroke="#929292" stroke-width="1.2"/><rect x="1008.0" y="178.0" width="5.4" height="6.5" fill="#741212"/><rect x="1008.91" y="178.95" width="3.5" height="4.60" fill="#ff0000"/>
<line x1="1016.7" y1="179.3" x2="1016.7" y2="190.1" stroke="#929292" stroke-width="1.2"/><rect x="1014.0" y="180.4" width="5.4" height="5.5" fill="#237223"/><rect x="1014.99" y="181.35" width="3.5" height="3.60" fill="#00dc00"/>
<line x1="1022.8" y1="174.8" x2="1022.8" y2="183.2" stroke="#929292" stroke-width="1.2"/><rect x="1020.1" y="178.0" width="5.4" height="3.2" fill="#741212"/><rect x="1021.08" y="178.95" width="3.5" height="1.30" fill="#ff0000"/>
<line x1="1028.9" y1="173.5" x2="1028.9" y2="181.3" stroke="#929292" stroke-width="1.2"/><rect x="1026.2" y="177.1" width="5.4" height="2.1" fill="#741212"/><rect x="1027.16" y="177.70" width="3.5" height="0.90" fill="#ff0000" fill-opacity="0.7"/>
<line x1="1035.0" y1="167.6" x2="1035.0" y2="175.8" stroke="#929292" stroke-width="1.2"/><rect x="1032.3" y="167.9" width="5.4" height="7.8" fill="#237223"/><rect x="1033.24" y="168.85" width="3.5" height="5.90" fill="#00dc00"/>
<line x1="1041.1" y1="151.0" x2="1041.1" y2="167.6" stroke="#929292" stroke-width="1.2"/><rect x="1038.4" y="151.1" width="5.4" height="10.9" fill="#237223"/><rect x="1039.32" y="152.05" width="3.5" height="9.00" fill="#00dc00"/>
<line x1="1047.2" y1="113.8" x2="1047.2" y2="149.0" stroke="#929292" stroke-width="1.2"/><rect x="1044.5" y="119.4" width="5.4" height="29.3" fill="#237223"/><rect x="1045.40" y="120.35" width="3.5" height="27.40" fill="#00dc00"/>
<line x1="1053.2" y1="120.1" x2="1053.2" y2="143.9" stroke="#929292" stroke-width="1.2"/><rect x="1050.5" y="120.3" width="5.4" height="23.5" fill="#741212"/><rect x="1051.49" y="121.25" width="3.5" height="21.60" fill="#ff0000"/>
<line x1="1059.3" y1="137.3" x2="1059.3" y2="156.4" stroke="#929292" stroke-width="1.2"/><rect x="1056.6" y="144.4" width="5.4" height="4.3" fill="#741212"/><rect x="1057.57" y="145.35" width="3.5" height="2.40" fill="#ff0000"/>
<line x1="1065.4" y1="130.4" x2="1065.4" y2="151.9" stroke="#929292" stroke-width="1.2"/><rect x="1062.7" y="136.0" width="5.4" height="15.9" fill="#237223"/><rect x="1063.65" y="136.95" width="3.5" height="14.00" fill="#00dc00"/>
<line x1="1071.5" y1="129.4" x2="1071.5" y2="138.3" stroke="#929292" stroke-width="1.2"/><rect x="1068.8" y="133.1" width="5.4" height="5.1" fill="#741212"/><rect x="1069.73" y="134.05" width="3.5" height="3.20" fill="#ff0000"/>
<line x1="1077.6" y1="139.2" x2="1077.6" y2="159.4" stroke="#929292" stroke-width="1.2"/><rect x="1074.9" y="139.9" width="5.4" height="7.8" fill="#741212"/><rect x="1075.81" y="140.85" width="3.5" height="5.90" fill="#ff0000"/>
<line x1="1084.0" y1="238.0" x2="1084.0" y2="261.5" stroke="#929292" stroke-width="1.2"/><rect x="1081.3" y="241.2" width="5.4" height="4.5" fill="#741212"/><rect x="1082.25" y="242.15" width="3.5" height="2.60" fill="#ff0000"/>
<line x1="1090.1" y1="225.7" x2="1090.1" y2="255.6" stroke="#929292" stroke-width="1.2"/><rect x="1087.4" y="242.6" width="5.4" height="7.4" fill="#741212"/><rect x="1088.32" y="243.55" width="3.5" height="5.50" fill="#ff0000"/>
<line x1="1096.1" y1="217.5" x2="1096.1" y2="249.4" stroke="#929292" stroke-width="1.2"/><rect x="1093.4" y="217.6" width="5.4" height="31.5" fill="#237223"/><rect x="1094.39" y="218.55" width="3.5" height="29.60" fill="#00dc00"/>
<line x1="1102.2" y1="218.8" x2="1102.2" y2="231.8" stroke="#929292" stroke-width="1.2"/><rect x="1099.5" y="220.7" width="5.4" height="2.3" fill="#741212"/><rect x="1100.46" y="221.65" width="3.5" height="0.40" fill="#ff0000"/>
<line x1="1108.3" y1="195.1" x2="1108.3" y2="227.2" stroke="#929292" stroke-width="1.2"/><rect x="1105.6" y="205.2" width="5.4" height="19.7" fill="#237223"/><rect x="1106.53" y="206.15" width="3.5" height="17.80" fill="#00dc00"/>
<line x1="1114.3" y1="191.7" x2="1114.3" y2="204.9" stroke="#929292" stroke-width="1.2"/><rect x="1111.6" y="195.2" width="5.4" height="9.8" fill="#237223"/><rect x="1112.60" y="196.15" width="3.5" height="7.90" fill="#00dc00"/>
<line x1="1120.4" y1="195.1" x2="1120.4" y2="206.0" stroke="#929292" stroke-width="1.2"/><rect x="1117.7" y="197.4" width="5.4" height="8.4" fill="#741212"/><rect x="1118.67" y="198.35" width="3.5" height="6.50" fill="#ff0000"/>
<line x1="1126.5" y1="194.8" x2="1126.5" y2="209.5" stroke="#929292" stroke-width="1.2"/><rect x="1123.8" y="205.3" width="5.4" height="3.9" fill="#237223"/><rect x="1124.74" y="206.25" width="3.5" height="2.00" fill="#00dc00"/>
<line x1="1132.6" y1="200.9" x2="1132.6" y2="209.3" stroke="#929292" stroke-width="1.2"/><rect x="1129.9" y="205.3" width="5.4" height="4.0" fill="#741212"/><rect x="1130.81" y="206.25" width="3.5" height="2.10" fill="#ff0000"/>
<line x1="1138.6" y1="205.6" x2="1138.6" y2="222.7" stroke="#929292" stroke-width="1.2"/><rect x="1135.9" y="208.0" width="5.4" height="14.7" fill="#741212"/><rect x="1136.88" y="208.95" width="3.5" height="12.80" fill="#ff0000"/>
<line x1="1144.7" y1="221.8" x2="1144.7" y2="242.9" stroke="#929292" stroke-width="1.2"/><rect x="1142.0" y="224.2" width="5.4" height="18.7" fill="#741212"/><rect x="1142.95" y="225.15" width="3.5" height="16.80" fill="#ff0000"/>
<line x1="1150.8" y1="235.9" x2="1150.8" y2="247.7" stroke="#929292" stroke-width="1.2"/><rect x="1148.1" y="239.2" width="5.4" height="6.0" fill="#237223"/><rect x="1149.02" y="240.15" width="3.5" height="4.10" fill="#00dc00"/>
<line x1="1156.8" y1="231.2" x2="1156.8" y2="241.5" stroke="#929292" stroke-width="1.2"/><rect x="1154.1" y="232.2" width="5.4" height="9.4" fill="#237223"/><rect x="1155.09" y="233.15" width="3.5" height="7.50" fill="#00dc00"/>
<line x1="1162.9" y1="231.2" x2="1162.9" y2="249.6" stroke="#929292" stroke-width="1.2"/><rect x="1160.2" y="234.5" width="5.4" height="15.1" fill="#741212"/><rect x="1161.16" y="235.45" width="3.5" height="13.20" fill="#ff0000"/>
<line x1="1169.0" y1="234.5" x2="1169.0" y2="248.4" stroke="#929292" stroke-width="1.2"/><rect x="1166.3" y="245.9" width="5.4" height="2.7" fill="#237223"/><rect x="1167.23" y="246.85" width="3.5" height="0.80" fill="#00dc00"/>
<line x1="1175.0" y1="242.6" x2="1175.0" y2="253.1" stroke="#929292" stroke-width="1.2"/><rect x="1172.3" y="248.4" width="5.4" height="4.6" fill="#741212"/><rect x="1173.30" y="249.35" width="3.5" height="2.70" fill="#ff0000"/>
<line x1="1181.1" y1="235.6" x2="1181.1" y2="254.7" stroke="#929292" stroke-width="1.2"/><rect x="1178.4" y="235.6" width="5.4" height="16.3" fill="#237223"/><rect x="1179.37" y="236.55" width="3.5" height="14.40" fill="#00dc00"/>
<line x1="1187.2" y1="224.5" x2="1187.2" y2="240.6" stroke="#929292" stroke-width="1.2"/><rect x="1184.5" y="225.2" width="5.4" height="13.0" fill="#237223"/><rect x="1185.44" y="226.15" width="3.5" height="11.10" fill="#00dc00"/>
<line x1="1193.3" y1="221.1" x2="1193.3" y2="236.2" stroke="#929292" stroke-width="1.2"/><rect x="1190.6" y="224.2" width="5.4" height="12.0" fill="#741212"/><rect x="1191.51" y="225.15" width="3.5" height="10.10" fill="#ff0000"/>
<line x1="1199.3" y1="227.2" x2="1199.3" y2="241.9" stroke="#929292" stroke-width="1.2"/><rect x="1196.6" y="227.9" width="5.4" height="7.0" fill="#237223"/><rect x="1197.58" y="228.85" width="3.5" height="5.10" fill="#00dc00"/>
<line x1="1205.4" y1="222.2" x2="1205.4" y2="231.9" stroke="#929292" stroke-width="1.2"/><rect x="1202.7" y="222.4" width="5.4" height="9.5" fill="#237223"/><rect x="1203.65" y="223.35" width="3.5" height="7.60" fill="#00dc00"/>
<line x1="1211.5" y1="218.8" x2="1211.5" y2="224.9" stroke="#929292" stroke-width="1.2"/><rect x="1208.8" y="222.6" width="5.4" height="2.4" fill="#237223"/><rect x="1209.72" y="223.55" width="3.5" height="0.50" fill="#00dc00"/>
<line x1="1217.5" y1="220.4" x2="1217.5" y2="225.1" stroke="#929292" stroke-width="1.2"/><rect x="1214.8" y="220.8" width="5.4" height="1.9" fill="#741212"/><rect x="1215.79" y="221.40" width="3.5" height="0.70" fill="#ff0000" fill-opacity="0.7"/>
<line x1="1223.6" y1="215.7" x2="1223.6" y2="226.2" stroke="#929292" stroke-width="1.2"/><rect x="1220.9" y="222.6" width="5.4" height="3.5" fill="#741212"/><rect x="1221.86" y="223.55" width="3.5" height="1.60" fill="#ff0000"/>
<line x1="1229.7" y1="214.4" x2="1229.7" y2="222.7" stroke="#929292" stroke-width="1.2"/><rect x="1227.0" y="219.1" width="5.4" height="3.6" fill="#237223"/><rect x="1227.93" y="220.05" width="3.5" height="1.70" fill="#00dc00"/>
<line x1="1235.8" y1="224.2" x2="1235.8" y2="230.5" stroke="#929292" stroke-width="1.2"/><rect x="1233.0" y="224.4" width="5.4" height="4.1" fill="#741212"/><rect x="1234.00" y="225.35" width="3.5" height="2.20" fill="#ff0000"/>
<line x1="1241.8" y1="222.2" x2="1241.8" y2="230.1" stroke="#929292" stroke-width="1.2"/><rect x="1239.1" y="222.6" width="5.4" height="6.9" fill="#237223"/><rect x="1240.07" y="223.55" width="3.5" height="5.00" fill="#00dc00"/>
<line x1="1247.9" y1="221.1" x2="1247.9" y2="226.5" stroke="#929292" stroke-width="1.2"/><rect x="1245.2" y="224.2" width="5.4" height="1.9" fill="#741212"/><rect x="1246.14" y="224.80" width="3.5" height="0.70" fill="#ff0000" fill-opacity="0.7"/>
<line x1="1254.0" y1="208.3" x2="1254.0" y2="225.1" stroke="#929292" stroke-width="1.2"/><rect x="1251.3" y="222.6" width="5.4" height="2.4" fill="#741212"/><rect x="1252.21" y="223.55" width="3.5" height="0.50" fill="#ff0000"/>
<line x1="1260.0" y1="218.1" x2="1260.0" y2="228.5" stroke="#929292" stroke-width="1.2"/><rect x="1257.3" y="218.8" width="5.4" height="3.9" fill="#237223"/><rect x="1258.28" y="219.75" width="3.5" height="2.00" fill="#00dc00"/>
<line x1="1266.1" y1="217.3" x2="1266.1" y2="230.2" stroke="#929292" stroke-width="1.2"/><rect x="1263.4" y="217.7" width="5.4" height="11.8" fill="#741212"/><rect x="1264.35" y="218.65" width="3.5" height="9.90" fill="#ff0000"/>
<line x1="1272.2" y1="225.5" x2="1272.2" y2="232.9" stroke="#929292" stroke-width="1.2"/><rect x="1269.5" y="231.2" width="5.4" height="1.9" fill="#741212"/><rect x="1270.42" y="231.80" width="3.5" height="0.70" fill="#ff0000" fill-opacity="0.7"/>
<line x1="1278.2" y1="225.5" x2="1278.2" y2="231.9" stroke="#929292" stroke-width="1.2"/><rect x="1275.5" y="228.9" width="5.4" height="3.0" fill="#237223"/><rect x="1276.49" y="229.85" width="3.5" height="1.10" fill="#00dc00"/>
<line x1="1284.3" y1="223.8" x2="1284.3" y2="235.2" stroke="#929292" stroke-width="1.2"/><rect x="1281.6" y="224.4" width="5.4" height="4.0" fill="#237223"/><rect x="1282.56" y="225.35" width="3.5" height="2.10" fill="#00dc00"/>
<line x1="1290.4" y1="205.0" x2="1290.4" y2="228.1" stroke="#929292" stroke-width="1.2"/><rect x="1287.7" y="205.3" width="5.4" height="22.8" fill="#237223"/><rect x="1288.63" y="206.25" width="3.5" height="20.90" fill="#00dc00"/>
<line x1="1296.5" y1="200.7" x2="1296.5" y2="212.8" stroke="#929292" stroke-width="1.2"/><rect x="1293.8" y="207.8" width="5.4" height="4.9" fill="#741212"/><rect x="1294.70" y="208.75" width="3.5" height="3.00" fill="#ff0000"/>
<line x1="1302.5" y1="198.2" x2="1302.5" y2="218.1" stroke="#929292" stroke-width="1.2"/><rect x="1299.8" y="201.0" width="5.4" height="17.0" fill="#237223"/><rect x="1300.77" y="201.95" width="3.5" height="15.10" fill="#00dc00"/>
<line x1="1308.6" y1="198.2" x2="1308.6" y2="212.8" stroke="#929292" stroke-width="1.2"/><rect x="1305.9" y="202.0" width="5.4" height="10.7" fill="#741212"/><rect x="1306.84" y="202.95" width="3.5" height="8.80" fill="#ff0000"/>
<line x1="1314.7" y1="215.7" x2="1314.7" y2="221.8" stroke="#929292" stroke-width="1.2"/><rect x="1312.0" y="217.7" width="5.4" height="4.0" fill="#741212"/><rect x="1312.91" y="218.65" width="3.5" height="2.10" fill="#ff0000"/>
<line x1="1320.7" y1="214.1" x2="1320.7" y2="221.8" stroke="#929292" stroke-width="1.2"/><rect x="1318.0" y="214.5" width="5.4" height="4.9" fill="#237223"/><rect x="1318.98" y="215.45" width="3.5" height="3.00" fill="#00dc00"/>
<line x1="1326.8" y1="212.1" x2="1326.8" y2="218.7" stroke="#929292" stroke-width="1.2"/><rect x="1324.1" y="214.8" width="5.4" height="3.6" fill="#237223"/><rect x="1325.05" y="215.75" width="3.5" height="1.70" fill="#00dc00"/>
<line x1="1332.9" y1="211.4" x2="1332.9" y2="218.1" stroke="#929292" stroke-width="1.2"/><rect x="1330.2" y="215.8" width="5.4" height="2.2" fill="#741212"/><rect x="1331.12" y="216.40" width="3.5" height="1.00" fill="#ff0000" fill-opacity="0.7"/>
<line x1="1338.9" y1="215.0" x2="1338.9" y2="225.1" stroke="#929292" stroke-width="1.2"/><rect x="1336.2" y="215.8" width="5.4" height="9.0" fill="#741212"/><rect x="1337.19" y="216.75" width="3.5" height="7.10" fill="#ff0000"/>
<line x1="1345.0" y1="225.1" x2="1345.0" y2="231.9" stroke="#929292" stroke-width="1.2"/><rect x="1342.3" y="228.2" width="5.4" height="3.7" fill="#741212"/><rect x="1343.26" y="229.15" width="3.5" height="1.80" fill="#ff0000"/>
<line x1="1351.1" y1="225.4" x2="1351.1" y2="230.2" stroke="#929292" stroke-width="1.2"/><rect x="1348.4" y="225.9" width="5.4" height="3.6" fill="#237223"/><rect x="1349.33" y="226.85" width="3.5" height="1.70" fill="#00dc00"/>
<line x1="1357.2" y1="217.5" x2="1357.2" y2="228.8" stroke="#929292" stroke-width="1.2"/><rect x="1354.5" y="225.9" width="5.4" height="2.5" fill="#237223"/><rect x="1355.40" y="226.85" width="3.5" height="0.60" fill="#00dc00"/>
<line x1="1363.2" y1="217.7" x2="1363.2" y2="229.6" stroke="#929292" stroke-width="1.2"/><rect x="1360.5" y="217.8" width="5.4" height="11.7" fill="#237223"/><rect x="1361.47" y="218.75" width="3.5" height="9.80" fill="#00dc00"/>
<line x1="1369.3" y1="208.1" x2="1369.3" y2="221.8" stroke="#929292" stroke-width="1.2"/><rect x="1366.6" y="208.4" width="5.4" height="11.0" fill="#237223"/><rect x="1367.54" y="209.35" width="3.5" height="9.10" fill="#00dc00"/>
<line x1="1375.4" y1="209.0" x2="1375.4" y2="218.1" stroke="#929292" stroke-width="1.2"/><rect x="1372.7" y="211.1" width="5.4" height="6.9" fill="#741212"/><rect x="1373.61" y="212.05" width="3.5" height="5.00" fill="#ff0000"/>
<line x1="1381.4" y1="218.4" x2="1381.4" y2="231.9" stroke="#929292" stroke-width="1.2"/><rect x="1378.7" y="218.8" width="5.4" height="10.7" fill="#741212"/><rect x="1379.68" y="219.75" width="3.5" height="8.80" fill="#ff0000"/>
<line x1="1387.5" y1="220.8" x2="1387.5" y2="231.9" stroke="#929292" stroke-width="1.2"/><rect x="1384.8" y="221.2" width="5.4" height="10.7" fill="#237223"/><rect x="1385.75" y="222.15" width="3.5" height="8.80" fill="#00dc00"/>
<line x1="1393.6" y1="224.2" x2="1393.6" y2="239.7" stroke="#929292" stroke-width="1.2"/><rect x="1390.9" y="224.4" width="5.4" height="15.2" fill="#741212"/><rect x="1391.82" y="225.35" width="3.5" height="13.30" fill="#ff0000"/>
<line x1="1399.6" y1="228.5" x2="1399.6" y2="238.9" stroke="#929292" stroke-width="1.2"/><rect x="1396.9" y="234.9" width="5.4" height="3.7" fill="#237223"/><rect x="1397.89" y="235.85" width="3.5" height="1.80" fill="#00dc00"/>
<line x1="1405.7" y1="219.1" x2="1405.7" y2="235.2" stroke="#929292" stroke-width="1.2"/><rect x="1403.0" y="221.2" width="5.4" height="11.6" fill="#237223"/><rect x="1403.96" y="222.15" width="3.5" height="9.70" fill="#00dc00"/>
<line x1="1411.8" y1="215.7" x2="1411.8" y2="222.9" stroke="#929292" stroke-width="1.2"/><rect x="1409.1" y="218.8" width="5.4" height="3.9" fill="#741212"/><rect x="1410.03" y="219.75" width="3.5" height="2.00" fill="#ff0000"/>
<line x1="1417.8" y1="207.4" x2="1417.8" y2="230.5" stroke="#929292" stroke-width="1.2"/><rect x="1415.1" y="208.4" width="5.4" height="14.3" fill="#237223"/><rect x="1416.10" y="209.35" width="3.5" height="12.40" fill="#00dc00"/>
<line x1="1423.9" y1="208.7" x2="1423.9" y2="221.8" stroke="#929292" stroke-width="1.2"/><rect x="1421.2" y="210.7" width="5.4" height="11.0" fill="#741212"/><rect x="1422.17" y="211.65" width="3.5" height="9.10" fill="#ff0000"/>
<line x1="1430.0" y1="222.2" x2="1430.0" y2="232.9" stroke="#929292" stroke-width="1.2"/><rect x="1427.3" y="224.2" width="5.4" height="8.6" fill="#741212"/><rect x="1428.24" y="225.15" width="3.5" height="6.70" fill="#ff0000"/>
<line x1="1436.1" y1="229.2" x2="1436.1" y2="235.5" stroke="#929292" stroke-width="1.2"/><rect x="1433.4" y="231.6" width="5.4" height="3.7" fill="#741212"/><rect x="1434.31" y="232.55" width="3.5" height="1.80" fill="#ff0000"/>
<line x1="1442.1" y1="222.2" x2="1442.1" y2="233.9" stroke="#929292" stroke-width="1.2"/><rect x="1439.4" y="225.5" width="5.4" height="6.7" fill="#237223"/><rect x="1440.38" y="226.45" width="3.5" height="4.80" fill="#00dc00"/>
<line x1="1448.2" y1="215.0" x2="1448.2" y2="225.1" stroke="#929292" stroke-width="1.2"/><rect x="1445.5" y="215.4" width="5.4" height="9.4" fill="#237223"/><rect x="1446.45" y="216.35" width="3.5" height="7.50" fill="#00dc00"/>
<line x1="1454.3" y1="214.1" x2="1454.3" y2="220.4" stroke="#929292" stroke-width="1.2"/><rect x="1451.6" y="214.5" width="5.4" height="3.5" fill="#237223"/><rect x="1452.52" y="215.45" width="3.5" height="1.60" fill="#00dc00"/>
<line x1="1460.3" y1="218.4" x2="1460.3" y2="225.1" stroke="#929292" stroke-width="1.2"/><rect x="1457.6" y="218.8" width="5.4" height="3.0" fill="#741212"/><rect x="1458.59" y="219.75" width="3.5" height="1.10" fill="#ff0000"/>
<line x1="1466.4" y1="215.0" x2="1466.4" y2="219.5" stroke="#929292" stroke-width="1.2"/><rect x="1463.7" y="215.4" width="5.4" height="4.0" fill="#237223"/><rect x="1464.66" y="216.35" width="3.5" height="2.10" fill="#00dc00"/>
<line x1="1472.5" y1="210.7" x2="1472.5" y2="219.5" stroke="#929292" stroke-width="1.2"/><rect x="1469.8" y="214.7" width="5.4" height="4.7" fill="#741212"/><rect x="1470.73" y="215.65" width="3.5" height="2.80" fill="#ff0000"/>
<line x1="1478.5" y1="207.7" x2="1478.5" y2="221.8" stroke="#929292" stroke-width="1.2"/><rect x="1475.8" y="208.4" width="5.4" height="9.6" fill="#237223"/><rect x="1476.80" y="209.35" width="3.5" height="7.70" fill="#00dc00"/>
<line x1="1484.6" y1="198.2" x2="1484.6" y2="252.0" stroke="#929292" stroke-width="1.2"/><rect x="1481.9" y="222.1" width="5.4" height="19.7" fill="#741212"/><rect x="1482.87" y="223.05" width="3.5" height="17.80" fill="#ff0000"/>
<line x1="1490.7" y1="209.7" x2="1490.7" y2="248.9" stroke="#929292" stroke-width="1.2"/><rect x="1488.0" y="211.1" width="5.4" height="27.5" fill="#237223"/><rect x="1488.94" y="212.05" width="3.5" height="25.60" fill="#00dc00"/>
<line x1="1496.8" y1="190.2" x2="1496.8" y2="218.1" stroke="#929292" stroke-width="1.2"/><rect x="1494.1" y="205.3" width="5.4" height="9.4" fill="#237223"/><rect x="1495.01" y="206.25" width="3.5" height="7.50" fill="#00dc00"/>
<line x1="1502.8" y1="193.5" x2="1502.8" y2="207.0" stroke="#929292" stroke-width="1.2"/><rect x="1500.1" y="193.9" width="5.4" height="11.0" fill="#237223"/><rect x="1501.08" y="194.85" width="3.5" height="9.10" fill="#00dc00"/>
<line x1="1508.9" y1="197.6" x2="1508.9" y2="211.7" stroke="#929292" stroke-width="1.2"/><rect x="1506.2" y="198.3" width="5.4" height="11.0" fill="#741212"/><rect x="1507.15" y="199.25" width="3.5" height="9.10" fill="#ff0000"/>
<line x1="1515.0" y1="204.3" x2="1515.0" y2="211.7" stroke="#929292" stroke-width="1.2"/><rect x="1512.3" y="207.4" width="5.4" height="1.9" fill="#741212"/><rect x="1513.22" y="208.00" width="3.5" height="0.70" fill="#ff0000" fill-opacity="0.7"/>
<line x1="1521.0" y1="201.6" x2="1521.0" y2="214.1" stroke="#929292" stroke-width="1.2"/><rect x="1518.3" y="204.0" width="5.4" height="2.2" fill="#237223"/><rect x="1519.29" y="204.60" width="3.5" height="1.00" fill="#00dc00" fill-opacity="0.7"/>
<line x1="1527.1" y1="205.0" x2="1527.1" y2="218.1" stroke="#929292" stroke-width="1.2"/><rect x="1524.4" y="205.3" width="5.4" height="12.7" fill="#741212"/><rect x="1525.36" y="206.25" width="3.5" height="10.80" fill="#ff0000"/>
<line x1="1533.2" y1="204.0" x2="1533.2" y2="217.5" stroke="#929292" stroke-width="1.2"/><rect x="1530.5" y="204.4" width="5.4" height="11.6" fill="#237223"/><rect x="1531.43" y="205.35" width="3.5" height="9.70" fill="#00dc00"/>
<line x1="1539.2" y1="196.9" x2="1539.2" y2="208.3" stroke="#929292" stroke-width="1.2"/><rect x="1536.5" y="200.6" width="5.4" height="2.0" fill="#237223"/><rect x="1537.50" y="201.20" width="3.5" height="0.80" fill="#00dc00" fill-opacity="0.7"/>
<line x1="1545.3" y1="201.6" x2="1545.3" y2="209.7" stroke="#929292" stroke-width="1.2"/><rect x="1542.6" y="201.7" width="5.4" height="7.6" fill="#741212"/><rect x="1543.57" y="202.65" width="3.5" height="5.70" fill="#ff0000"/>
<line x1="1551.4" y1="210.0" x2="1551.4" y2="211.0" stroke="#929292" stroke-width="1.2"/><rect x="1548.7" y="209.7" width="5.4" height="1.7" fill="#237223"/>
</g>
<rect x="0" y="0" width="3.2" height="818" fill="#eff0f5"/>
<rect x="0" y="375" width="3.2" height="30.8" fill="#fff"/>
<rect x="0" y="374.6" width="3.2" height="1" fill="#c9cad0"/><rect x="0" y="405" width="3.2" height="1" fill="#c9cad0"/>
<path d="M1.9 388 L1.9 393 L0 390.5 Z" fill="#b4b6bd"/>
<rect x="1772.9" y="0" width="1.5" height="791" fill="#5a5a5a"/>
<rect x="4" y="789.8" width="1770" height="1.4" fill="#5a5a5a"/>
<rect x="1831" y="0" width="5" height="818" fill="#eff0f5"/>
<rect x="3.2" y="812" width="1828" height="6" fill="#e5e7ec"/>
<rect x="3.2" y="0" width="1.1" height="818" fill="#c2c3c9"/>
<rect x="1830.9" y="0" width="1.2" height="818" fill="#c6c7cd"/>
<g stroke="#a4a6ad" stroke-width="1">
<line x1="53.4" y1="816" x2="53.4" y2="818"/>
<line x1="97.7" y1="816" x2="97.7" y2="818"/>
<line x1="140.4" y1="816" x2="140.4" y2="818"/>
<line x1="187.5" y1="816" x2="187.5" y2="818"/>
<line x1="234.3" y1="816" x2="234.3" y2="818"/>
<line x1="278.0" y1="816" x2="278.0" y2="818"/>
<line x1="1646" y1="816" x2="1646" y2="818"/>
<line x1="1684" y1="816" x2="1684" y2="818"/>
<line x1="1730" y1="816" x2="1730" y2="818"/>
<line x1="1809" y1="816" x2="1809" y2="818"/>
</g>
<clipPath id="cl"><rect x="1774" y="0" width="50.9" height="790"/></clipPath>
<g stroke="#5a5a5a" stroke-width="1.1">
<line x1="1774" y1="11.8" x2="1778" y2="11.8"/>
<line x1="1774" y1="45.7" x2="1778" y2="45.7"/>
<line x1="1774" y1="79.5" x2="1778" y2="79.5"/>
<line x1="1774" y1="113.4" x2="1778" y2="113.4"/>
<line x1="1774" y1="147.3" x2="1778" y2="147.3"/>
<line x1="1774" y1="181.1" x2="1778" y2="181.1"/>
<line x1="1774" y1="215.0" x2="1778" y2="215.0"/>
<line x1="1774" y1="248.8" x2="1778" y2="248.8"/>
<line x1="1774" y1="282.7" x2="1778" y2="282.7"/>
<line x1="1774" y1="316.6" x2="1778" y2="316.6"/>
<line x1="1774" y1="350.4" x2="1778" y2="350.4"/>
<line x1="1774" y1="384.3" x2="1778" y2="384.3"/>
<line x1="1774" y1="418.2" x2="1778" y2="418.2"/>
<line x1="1774" y1="452.0" x2="1778" y2="452.0"/>
<line x1="1774" y1="485.9" x2="1778" y2="485.9"/>
<line x1="1774" y1="519.8" x2="1778" y2="519.8"/>
<line x1="1774" y1="553.6" x2="1778" y2="553.6"/>
<line x1="1774" y1="587.5" x2="1778" y2="587.5"/>
<line x1="1774" y1="621.4" x2="1778" y2="621.4"/>
<line x1="1774" y1="655.2" x2="1778" y2="655.2"/>
<line x1="1774" y1="689.1" x2="1778" y2="689.1"/>
<line x1="1774" y1="722.9" x2="1778" y2="722.9"/>
<line x1="1774" y1="756.8" x2="1778" y2="756.8"/>
<line x1="50.7" y1="790" x2="50.7" y2="795"/>
<line x1="159.5" y1="790" x2="159.5" y2="795"/>
<line x1="268.8" y1="790" x2="268.8" y2="795"/>
<line x1="354.6" y1="790" x2="354.6" y2="795"/>
<line x1="456.8" y1="790" x2="456.8" y2="795"/>
<line x1="566.8" y1="790" x2="566.8" y2="795"/>
<line x1="676.6" y1="790" x2="676.6" y2="795"/>
<line x1="785.8" y1="790" x2="785.8" y2="795"/>
<line x1="895.4" y1="790" x2="895.4" y2="795"/>
<line x1="980.6" y1="790" x2="980.6" y2="795"/>
<line x1="1084.0" y1="790" x2="1084.0" y2="795"/>
<line x1="1193.4" y1="790" x2="1193.4" y2="795"/>
<line x1="1302.8" y1="790" x2="1302.8" y2="795"/>
<line x1="1411.5" y1="790" x2="1411.5" y2="795"/>
<line x1="1521.0" y1="790" x2="1521.0" y2="795"/>
<line x1="1606.4" y1="790" x2="1606.4" y2="795"/>
<line x1="1709.4" y1="790" x2="1709.4" y2="795"/>
</g>
<g clip-path="url(#cl)">
<text class="ax" x="1781.4" y="17.2" textLength="45.3">9820.00</text>
<text class="ax" x="1781.4" y="51.1" textLength="45.3">9800.00</text>
<text class="ax" x="1781.4" y="84.9" textLength="45.3">9780.00</text>
<text class="ax" x="1781.4" y="118.8" textLength="45.3">9760.00</text>
<text class="ax" x="1781.4" y="152.7" textLength="45.3">9740.00</text>
<text class="ax" x="1781.4" y="186.5" textLength="45.3">9720.00</text>
<text class="ax" x="1781.4" y="220.4" textLength="45.3">9700.00</text>
<text class="ax" x="1781.4" y="254.2" textLength="45.3">9680.00</text>
<text class="ax" x="1781.4" y="288.1" textLength="45.3">9660.00</text>
<text class="ax" x="1781.4" y="322.0" textLength="45.3">9640.00</text>
<text class="ax" x="1781.4" y="355.8" textLength="45.3">9620.00</text>
<text class="ax" x="1781.4" y="389.7" textLength="45.3">9600.00</text>
<text class="ax" x="1781.4" y="423.6" textLength="45.3">9580.00</text>
<text class="ax" x="1781.4" y="457.4" textLength="45.3">9560.00</text>
<text class="ax" x="1781.4" y="491.3" textLength="45.3">9540.00</text>
<text class="ax" x="1781.4" y="525.2" textLength="45.3">9520.00</text>
<text class="ax" x="1781.4" y="559.0" textLength="45.3">9500.00</text>
<text class="ax" x="1781.4" y="592.9" textLength="45.3">9480.00</text>
<text class="ax" x="1781.4" y="626.8" textLength="45.3">9460.00</text>
<text class="ax" x="1781.4" y="660.6" textLength="45.3">9440.00</text>
<text class="ax" x="1781.4" y="694.5" textLength="45.3">9420.00</text>
<text class="ax" x="1781.4" y="728.3" textLength="45.3">9400.00</text>
<text class="ax" x="1781.4" y="762.2" textLength="45.3">9380.00</text>
</g>
<rect x="1773" y="201.4" width="58" height="18.3" fill="#00d800"/>
<line x1="1774" y1="210.4" x2="1778" y2="210.4" stroke="#0a3a0a" stroke-width="1.1"/>
<text x="1781.7" y="214.8" font-size="12" fill="#000" textLength="44.4">9703.00</text>
<text class="tm" x="50.5" y="807.8">12:00</text>
<text class="tm" x="159.3" y="807.8">13:30</text>
<text class="tm" x="268.6" y="807.8">15:00</text>
<text class="tm" x="354.4" y="807.8">16:10</text>
<text class="tmb" x="456.6" y="807.8">5</text>
<text class="tm" x="566.6" y="807.8">10:30</text>
<text class="tm" x="676.4" y="807.8">12:00</text>
<text class="tm" x="785.6" y="807.8">13:30</text>
<text class="tm" x="895.2" y="807.8">15:00</text>
<text class="tm" x="980.4" y="807.8">16:10</text>
<text class="tmb" x="1083.8" y="807.8">6</text>
<text class="tm" x="1193.2" y="807.8">10:30</text>
<text class="tm" x="1302.6" y="807.8">12:00</text>
<text class="tm" x="1411.3" y="807.8">13:30</text>
<text class="tm" x="1520.8" y="807.8">15:00</text>
<text class="tm" x="1606.2" y="807.8">16:10</text>
<text class="tmb" x="1709.2" y="807.8">9</text>
<text class="ann" transform="translate(1152,173) scale(1.06,1)" x="0" y="0" textLength="151.9" lengthAdjust="spacing">GAP POR ARRIBA</text>
<text class="ann" transform="translate(1139.8,418) scale(1.06,1)" x="0" y="0" textLength="143.4" lengthAdjust="spacing">GAP POR ABAJO</text>
<text class="ann" transform="translate(1081.2,684.9) scale(1.06,1)" x="0" y="0" textLength="302.5" lengthAdjust="spacing">WWW.INVERTIRYESPECULAR.COM</text>
<rect x="10.8" y="12.6" width="13.4" height="12.8" rx="1.6" ry="1.6" fill="#fff" stroke="#6e6e6e" stroke-width="1.1"/>
<line x1="12.4" y1="19" x2="22.6" y2="19" stroke="#b2b2b2" stroke-width="1.7"/>
<text x="32.4" y="26.8" font-size="19.4" fill="#444" stroke="#444" stroke-width="0.2" textLength="279.3" lengthAdjust="spacingAndGlyphs">IBEX 35, España, 5, Madrid (CFD)</text>
<path d="M317.2 18.1 L325.9 18.1 L321.55 22.7 Z" fill="#c6c6c6"/>
<rect x="337.1" y="12.2" width="15.8" height="15.5" fill="#dcdcdc"/>
<rect x="356.05" y="12.2" width="15.85" height="15.5" fill="#dcdcdc"/>
<path d="M339 20 Q344.9 10.6 350.7 20 Q344.9 29.4 339 20 Z" fill="#fff"/><circle cx="344.9" cy="20" r="3" fill="#dcdcdc"/><circle cx="344.9" cy="20" r="1.15" fill="#fff"/>
<g fill="#fff"><circle cx="363.95" cy="19.9" r="4.5"/>
<rect x="362.7" y="13.7" width="2.5" height="3" transform="rotate(0 363.95 19.9)"/>
<rect x="362.7" y="13.7" width="2.5" height="3" transform="rotate(45 363.95 19.9)"/>
<rect x="362.7" y="13.7" width="2.5" height="3" transform="rotate(90 363.95 19.9)"/>
<rect x="362.7" y="13.7" width="2.5" height="3" transform="rotate(135 363.95 19.9)"/>
<rect x="362.7" y="13.7" width="2.5" height="3" transform="rotate(180 363.95 19.9)"/>
<rect x="362.7" y="13.7" width="2.5" height="3" transform="rotate(225 363.95 19.9)"/>
<rect x="362.7" y="13.7" width="2.5" height="3" transform="rotate(270 363.95 19.9)"/>
<rect x="362.7" y="13.7" width="2.5" height="3" transform="rotate(315 363.95 19.9)"/>
</g><circle cx="363.95" cy="19.9" r="2.15" fill="#dcdcdc"/>
<text y="24.8" font-size="13.3"><tspan x="381.2" fill="#5a5a62">O</tspan><tspan x="396.3" fill="#33574a" textLength="47.2" lengthAdjust="spacingAndGlyphs">9703.00</tspan><tspan x="449.5" fill="#5a5a62">H</tspan><tspan x="464.2" fill="#33574a" textLength="47.2" lengthAdjust="spacingAndGlyphs">9703.00</tspan><tspan x="517" fill="#5a5a62">L</tspan><tspan x="529.7" fill="#33574a" textLength="47.2" lengthAdjust="spacingAndGlyphs">9703.00</tspan><tspan x="582" fill="#5a5a62">C</tspan><tspan x="596.3" fill="#33574a" textLength="47.2" lengthAdjust="spacingAndGlyphs">9703.00</tspan></text>
<circle cx="1630.5" cy="20" r="3.5" fill="#2e8b57"/>
<text x="1638.8" y="23.7" font-size="12.8" fill="#2e8b57" textLength="128" lengthAdjust="spacingAndGlyphs">Apertura de mercado</text>
<text x="19.4" y="771.1" font-size="23.3" font-weight="bold" fill="#0a0a0a" stroke="#0a0a0a" stroke-width="0.7" textLength="99.6" lengthAdjust="spacingAndGlyphs">Investing</text>
<text x="120.6" y="771.1" font-size="16.8" fill="#444" textLength="32.8" lengthAdjust="spacingAndGlyphs">.com</text>
<rect x="84.5" y="751" width="8" height="6.4" fill="#fff"/>
<path d="M86 756.6 Q85.6 753.6 90.9 752 Q92 755.6 88.6 757.2 Q87 757.6 86 756.6 Z" fill="#ff9c1a"/>
<defs><filter id="sh" x="-20%" y="-20%" width="140%" height="140%"><feGaussianBlur stdDeviation="2.2"/></filter></defs>
<circle cx="1775" cy="781.5" r="42" fill="#000" fill-opacity="0.28" filter="url(#sh)"/>
<circle cx="1774" cy="779" r="42" fill="#ff9800"/>
<g>
<ellipse cx="1783" cy="786" rx="17.5" ry="10.8" fill="#fff"/>
<path d="M1790 793 L1799.5 799.5 L1797.5 789 Z" fill="#fff"/>
<ellipse cx="1770" cy="775" rx="25.6" ry="19.2" fill="#ff9800"/>
<path d="M1752.5 783 L1745.5 797.2 L1767 791.5 Z" fill="#ff9800" stroke="#ff9800" stroke-width="3" stroke-linejoin="round"/>
<ellipse cx="1770" cy="775" rx="23.1" ry="16.7" fill="#fff"/>
<path d="M1752.6 783.6 L1746.6 796 L1766 790.9 Z" fill="#fff"/>
<ellipse cx="1770" cy="775" rx="20.9" ry="14.5" fill="#ff9800"/>
<path d="M1755.4 784.2 L1750.4 793.1 L1763 789.7 L1760 784 Z" fill="#ff9800"/>
<circle cx="1761.2" cy="775" r="2.4" fill="#fff"/><circle cx="1769.7" cy="775" r="2.4" fill="#fff"/><circle cx="1778.3" cy="775" r="2.4" fill="#fff"/>
</g>
</svg></body></html>
